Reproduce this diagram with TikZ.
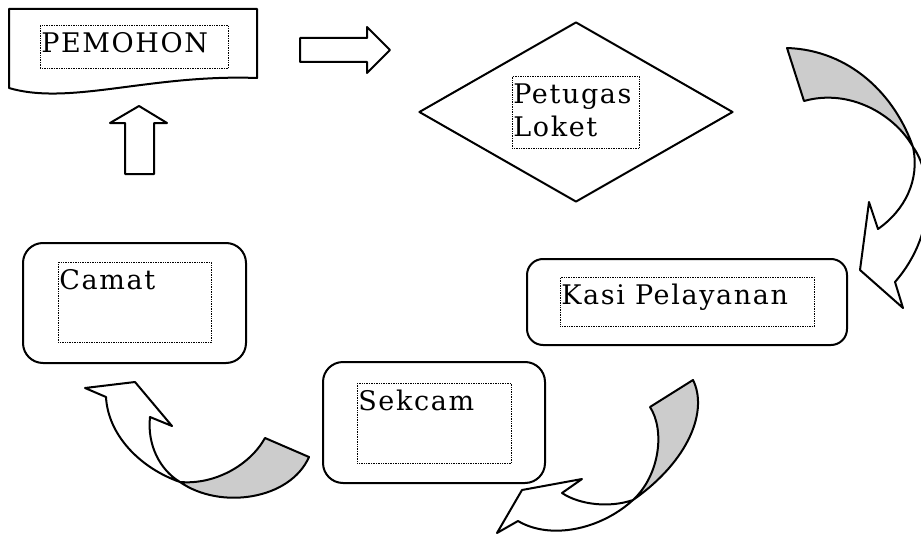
\documentclass[tikz,border=0pt]{standalone}
\usepackage{fontspec}
\setmainfont{DejaVu Serif}[LetterSpace=6]
\usetikzlibrary{shapes.geometric, positioning}

\definecolor{shade}{RGB}{204,204,204}
\newcommand{\boxtext}[3]{\parbox[c][#2][t]{#1}{#3}}

\begin{document}
\begin{tikzpicture}[x=1pt, y=-1pt,
  line width=2pt, line join=round,
  outer box/.style={draw, rounded corners=20pt, inner sep=0pt},
  text box/.style={draw, densely dotted, line width=0.7pt, inner xsep=1pt,
    inner ysep=7pt, anchor=north west, font=\fontsize{27}{33}\selectfont},
  ribbon/.style={draw, fill=white},
  ribbon back/.style={draw, fill=shade}]

  \useasboundingbox (0,0) rectangle (921,535);
  \clip (0,0) rectangle (921,535);

  % pemohon (document shape)
  \draw[fill=white] (9,9) -- (257,9) -- (257,78)
    .. controls (150,74) and (70,106) .. (9,88) -- cycle;
  \node[text box] (pemohon) at (40,25) {\boxtext{186pt}{29pt}{PEMOHON}};

  % petugas loket
  \node[diamond, draw, minimum width=314pt, minimum height=180pt, inner sep=0pt] (loket) at (576,112) {};
  \node[text box] (loket text) at (512,76) {\boxtext{125pt}{58pt}{Petugas\\Loket}};

  % kasi pelayanan
  \node[outer box, rounded corners=16pt, minimum width=320pt, minimum height=86pt] (kasi) at (687,302) {};
  \node[text box] (kasi text) at (560,277) {\boxtext{252pt}{35pt}{Kasi Pelayanan}};

  % sekcam
  \node[outer box, minimum width=222pt, minimum height=121pt] (sekcam) at (434,422.5) {};
  \node[text box] (sekcam text) at (357,383) {\boxtext{152pt}{66pt}{Sekcam}};

  % camat
  \node[outer box, minimum width=223pt, minimum height=120pt] (camat) at (134.5,303) {};
  \node[text box] (camat text) at (58,262) {\boxtext{151pt}{66pt}{Camat}};

  % straight block arrows
  \draw[fill=white] (300,38) -- (367,38) -- (367,27) -- (390,50) -- (367,73)
    -- (367,62) -- (300,62) -- cycle;
  \draw[fill=white] (125,174) -- (125,123) -- (110,123) -- (139,106) -- (167,123)
    -- (154,123) -- (154,174) -- cycle;

  % loket -> kasi
  \draw[ribbon back] (787,48) .. controls (850,50) and (895,95) .. (913,147)
    .. controls (895,115) and (850,88) .. (804,101) -- cycle;
  \draw[ribbon] (913,147) .. controls (920,180) and (905,210) .. (878,229)
    -- (869,202) -- (860,270) -- (903,308) -- (895,282)
    .. controls (940,230) and (930,170) .. (913,147) -- cycle;

  % kasi -> sekcam
  \draw[ribbon back] (693,380) .. controls (708,410) and (690,460) .. (633,500)
    .. controls (660,475) and (665,430) .. (650,407) -- cycle;
  \draw[ribbon] (633,500) .. controls (610,508) and (580,505) .. (562,493)
    -- (582,479) -- (522,490) -- (497,533) -- (518,521)
    .. controls (550,540) and (600,530) .. (633,500) -- cycle;

  % sekcam -> camat
  \draw[ribbon back] (265,438) .. controls (250,465) and (215,485) .. (180,482)
    .. controls (220,510) and (290,500) .. (309,457) -- cycle;
  \draw[ribbon] (180,482) .. controls (140,468) and (108,435) .. (106,397)
    -- (85,388) -- (135,382) -- (172,426) -- (150,417)
    .. controls (147,445) and (160,470) .. (180,482) -- cycle;
\end{tikzpicture}
\end{document}
